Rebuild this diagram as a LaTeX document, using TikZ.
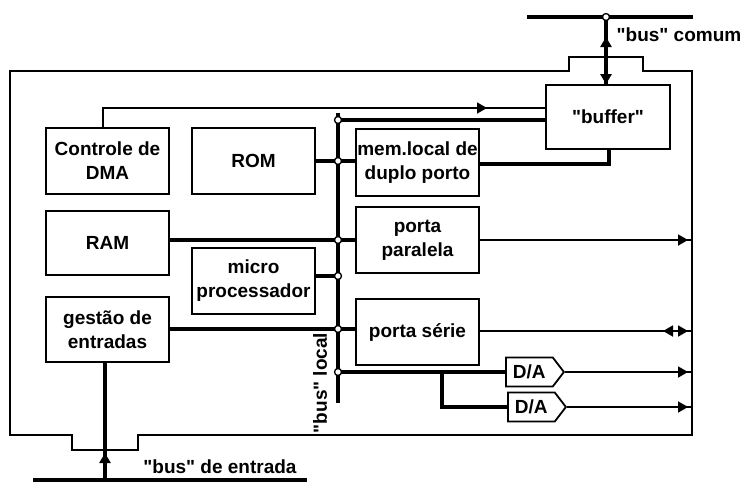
\documentclass[tikz,border=0pt]{standalone}
\usepackage{fontspec}
\setmainfont{Liberation Sans}[Ligatures=TeXOff]
\usetikzlibrary{arrows.meta,shapes.symbols,calc}
\newcommand\lblfont{\fontsize{19}{24}\selectfont\bfseries}
\begin{document}
\begin{tikzpicture}[x=1pt,y=-1pt,line join=miter,
  box/.style={draw,line width=1.8pt,inner sep=0pt,align=center,font=\lblfont},
  dabox/.style={draw,line width=1.8pt,inner sep=0pt,font=\lblfont,signal,signal to=east,signal pointer angle=105,minimum width=58pt,minimum height=29pt,anchor=west},
  thk/.style={line width=3.6pt},
  thn/.style={line width=1.8pt},
  tip/.style={-{Triangle[length=10pt,width=11pt]}},
  jn/.style={circle,draw,fill=white,line width=1.3pt,inner sep=0pt,minimum size=7pt},
  lbl/.style={font=\lblfont,inner sep=0pt}]
\useasboundingbox (0,0) rectangle (749,483);

% outer frame
\draw[thn] (10,71) -- (569,71) -- (569,57) -- (643,57) -- (643,71) -- (692,71)
  -- (692,435) -- (138,435) -- (138,450) -- (72,450) -- (72,435) -- (10,435) -- cycle;
\coordinate (FR) at (692,71);

% boxes
\node[box,minimum width=123pt,minimum height=66pt] (dma) at (107.5,161) {Controle de\\DMA};
\node[box,minimum width=123pt,minimum height=66pt] (rom) at (253.5,161) {ROM};
\node[box,minimum width=123pt,minimum height=64pt] (ram) at (107.5,243) {RAM};
\node[box,minimum width=123pt,minimum height=66pt] (mic) at (253.5,281) {micro\\processador};
\node[box,minimum width=123pt,minimum height=65pt] (ges) at (107.5,329.5) {gestão de\\entradas};
\node[box,minimum width=123pt,minimum height=67pt] (mem) at (417.5,162.5) {mem.local de\\duplo porto};
\node[box,minimum width=123pt,minimum height=66pt] (par) at (417.5,240) {porta\\paralela};
\node[box,minimum width=123pt,minimum height=66pt] (ser) at (417.5,332) {porta série};
\node[box,minimum width=124pt,minimum height=64pt] (buf) at (608,117) {"buffer"};
\node[dabox] (da1) at (505,372) {D/A};
\node[dabox] (da2) at (507,407) {D/A};

% junction coordinates on the local bus
\coordinate (j1) at (338,120);
\coordinate (jrom) at (338,161);
\coordinate (jram) at (338,240);
\coordinate (jmic) at (338,276);
\coordinate (jges) at (338,329);
\coordinate (jda) at (338,372);

% local bus
\draw[thk] (338,113) -- (338,403);

% common bus
\coordinate (bcL) at (527,17);
\coordinate (bcR) at (693,17);
\coordinate (bcJ) at (606,17);
\draw[thk] (bcL) -- (bcR);
\draw[thk] (bcJ) -- (bcJ |- buf.north);
\draw[thk,tip] (606,50) -- (606,37);
\draw[thk,tip] (606,70) -- (buf.north -| bcJ);

% DMA control line
\coordinate (d1) at (103,108);
\draw[thn] (d1 |- dma.north) -- (d1) -- (d1 -| buf.west);
\draw[thn,tip] (470,108) -- (487,108);

% top bus link to buffer
\draw[thk] (j1) -- (j1 -| buf.west);

% ROM - bus - mem
\draw[thk] (rom.east) -- (mem.west |- rom.east);
\coordinate (m1) at (609,164);
\draw[thk] (mem.east |- m1) -- (m1) -- (m1 |- buf.south);

% RAM - bus - porta paralela
\draw[thk] (ram.east |- jram) -- (par.west |- jram);
\draw[thn] (par.east |- jram) -- (FR |- jram);
\draw[thn,tip] (670,240) -- (688,240);

% micro
\draw[thk] (mic.east |- jmic) -- (jmic);

% gestao - bus - porta serie
\draw[thk] (ges.east |- jges) -- (ser.west |- jges);
\coordinate (so) at (692,331);
\draw[thn] (ser.east |- so) -- (so);
\draw[thn,tip] (676,331) -- (663,331);
\draw[thn,tip] (676,331) -- (688,331);

% D/A
\coordinate (br) at (442,372);
\draw[thk] (jda) -- (da1.west);
\draw[thk] (br) -- (br |- da2.west) -- (da2.west);
\draw[thn] (da1.east) -- (FR |- da1.east);
\draw[thn,tip] (670,372) -- (688,372);
\draw[thn] (da2.east) -- (FR |- da2.east);
\draw[thn,tip] (670,407) -- (688,407);

% input bus
\coordinate (beJ) at (105,480);
\draw[thk] (33,480) -- (307,480);
\draw[thk] (ges.south -| beJ) -- (beJ);
\draw[thk,tip] (105,466) -- (105,453);

% junction circles
\foreach \j in {j1,jrom,jram,jmic,jges,jda,bcJ}
  \node[jn] at (\j) {};

% labels
\node[lbl] (lcom) at (679,35) {"bus" comum};
\node[lbl] (lent) at (220,467) {"bus" de entrada};
\node[lbl,rotate=90] (lloc) at (320,383) {"bus" local};
\end{tikzpicture}
\end{document}
